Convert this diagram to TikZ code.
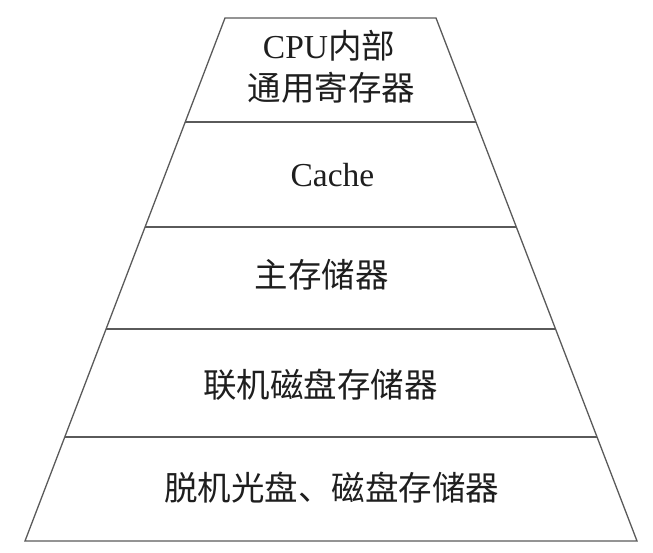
\documentclass[tikz,border=0pt]{standalone}
\usepackage{fontspec}
\setmainfont{Liberation Serif}
\newfontfamily\cjk{Noto Sans CJK SC}
\usetikzlibrary{calc}
\definecolor{linec}{RGB}{90,90,90}
\definecolor{textc}{RGB}{30,30,30}
\tikzset{
  edge/.style={draw=linec, line width=1.3pt, line join=miter},
  lvl/.style={text=textc, font=\fontsize{33.5}{42}\selectfont\cjk, align=center, inner sep=0pt}
}
\begin{document}
\begin{tikzpicture}[x=1pt,y=-1pt]
\useasboundingbox (0,0) rectangle (653,553);
\coordinate (TL) at (225,18);
\coordinate (TR) at (436,18);
\coordinate (BL) at (25,541);
\coordinate (BR) at (637,541);
\draw[edge] (TL) -- (TR) -- (BR) -- (BL) -- cycle;
\foreach \t/\n in {0.1989/a,0.3996/b,0.5946/c,0.8011/d}{
  \coordinate (L\n) at ($(TL)!\t!(BL)$);
  \coordinate (R\n) at ($(TR)!\t!(BR)$);
  \draw[edge] (L\n) -- (R\n);
}
\node[lvl] (cpu1) at (329,46) {{\rmfamily CPU}内部};
\node[lvl] (cpu2) at (331.5,88) {通用寄存器};
\node[lvl] (cache) at (332.5,175) {\rmfamily Cache};
\node[lvl] (mem) at (321.5,275) {主存储器};
\node[lvl] (disk) at (320.5,385) {联机磁盘存储器};
\node[lvl] (off) at (331.5,488) {脱机光盘、磁盘存储器};
\end{tikzpicture}
\end{document}
